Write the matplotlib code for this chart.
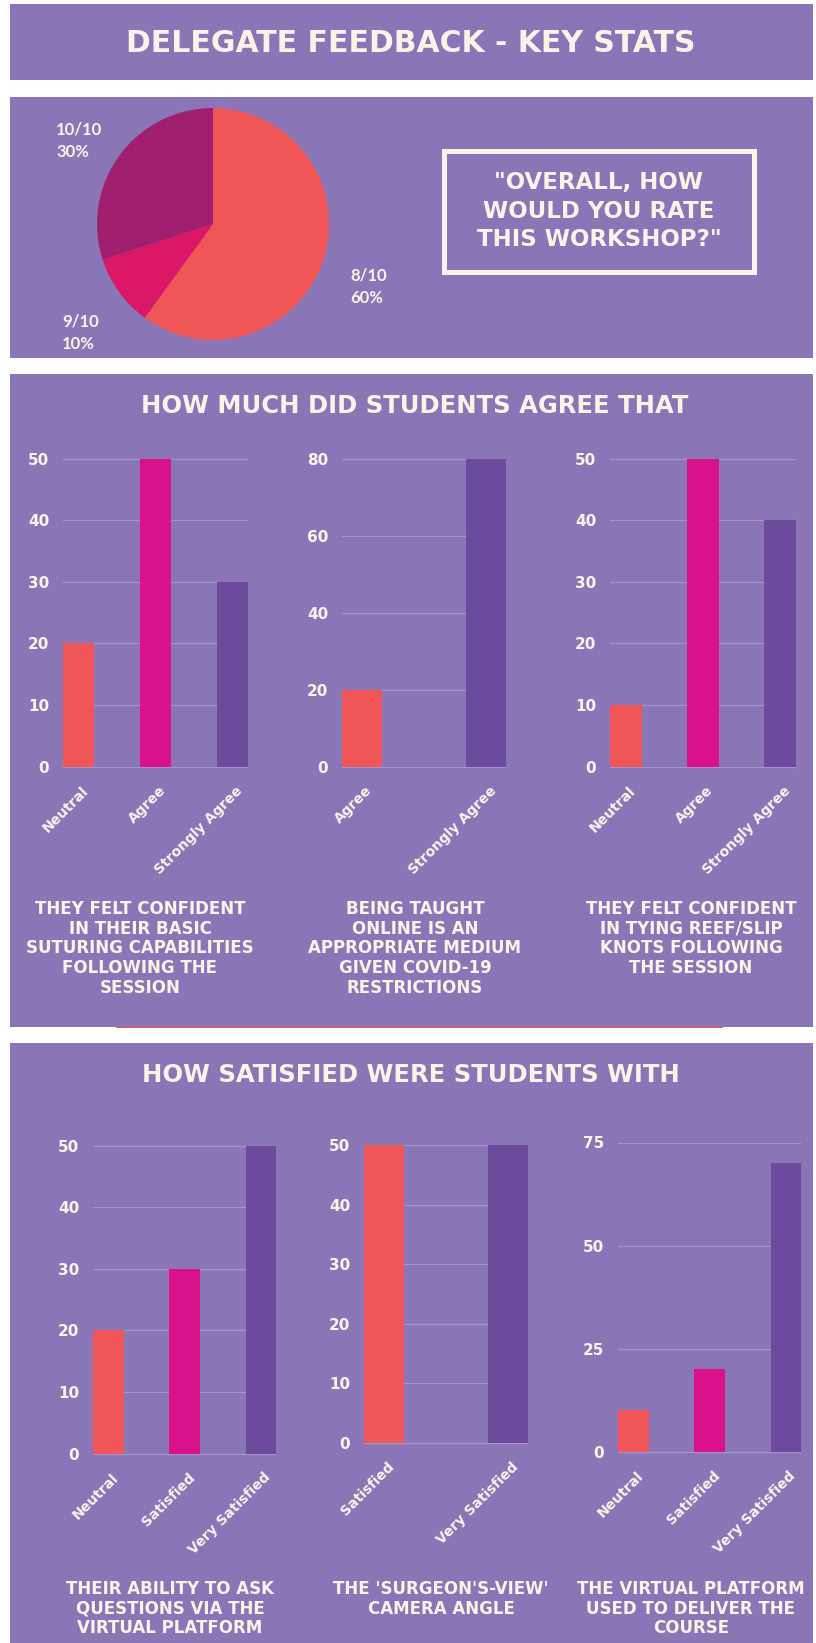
import matplotlib
matplotlib.use("Agg")
import matplotlib.pyplot as plt
from matplotlib.patches import Rectangle
from matplotlib.transforms import ScaledTranslation

W, H = 816, 1643
BG = '#8A76B6'
SALMON = '#F05558'
MAGENTA = '#DA128A'
PURPLE = '#6C4A9E'
PIE_MAG = '#DC1766'
PIE_DARK = '#A11F6F'
TXT = '#FCF2E8'
GRID = '#A394CC'
HEAD = 'DejaVu Sans'
BODY = 'Lato'

# overall rating pie
rating_labels = ['8/10', '9/10', '10/10']
rating_pct = [60, 10, 30]

# "how much did students agree that"
agree_cats_a = ['Neutral', 'Agree', 'Strongly Agree']
agree_vals_a = [20, 50, 30]
agree_cats_b = ['Agree', 'Strongly Agree']
agree_vals_b = [20, 80]
agree_cats_c = ['Neutral', 'Agree', 'Strongly Agree']
agree_vals_c = [10, 50, 40]

# "how satisfied were students with"
sat_cats_a = ['Neutral', 'Satisfied', 'Very Satisfied']
sat_vals_a = [20, 30, 50]
sat_cats_b = ['Satisfied', 'Very Satisfied']
sat_vals_b = [50, 50]
sat_cats_c = ['Neutral', 'Satisfied', 'Very Satisfied']
sat_vals_c = [10, 20, 70]

agree_captions = ["THEY FELT CONFIDENT\nIN THEIR BASIC\nSUTURING CAPABILITIES\nFOLLOWING THE\nSESSION",
                  "BEING TAUGHT\nONLINE IS AN\nAPPROPRIATE MEDIUM\nGIVEN COVID-19\nRESTRICTIONS",
                  "THEY FELT CONFIDENT\nIN TYING REEF/SLIP\nKNOTS FOLLOWING\nTHE SESSION"]
sat_captions = ["THEIR ABILITY TO ASK\nQUESTIONS VIA THE\nVIRTUAL PLATFORM",
                "THE 'SURGEON'S-VIEW'\nCAMERA ANGLE",
                "THE VIRTUAL PLATFORM\nUSED TO DELIVER THE\nCOURSE"]

fig = plt.figure(figsize=(W / 100, H / 100), dpi=100, facecolor='white')


def fx(x):
    return x / W


def fy(y):
    return 1 - y / H


def panel(x0, y0, x1, y1):
    fig.patches.append(Rectangle((fx(x0), fy(y1)), (x1 - x0) / W, (y1 - y0) / H,
                                 transform=fig.transFigure, facecolor=BG,
                                 edgecolor='none', zorder=-5))


def label(x, y, s, size, family=HEAD, weight='bold', ha='center', ls=1.2):
    fig.text(fx(x), fy(y), s, color=TXT, fontsize=size, family=family,
             fontweight=weight, ha=ha, va='center', linespacing=ls)


# panels
panel(10, 4, 813, 80)
panel(10, 97, 813, 358)
panel(10, 374, 813, 1027)
panel(10, 1043, 813, 1643)
fig.lines.append(plt.Line2D([fx(116), fx(722)], [fy(1026.5)] * 2, color=SALMON,
                            lw=0.8, transform=fig.transFigure, zorder=-4))

label(411, 43, 'DELEGATE FEEDBACK - KEY STATS', 21.5)

# pie
pax = fig.add_axes([fx(97), fy(340), 232 / W, 232 / H])
pax.pie(rating_pct, colors=[SALMON, PIE_MAG, PIE_DARK], startangle=90,
        counterclock=False, wedgeprops=dict(linewidth=0))
pax.set_xlim(-1, 1)
pax.set_ylim(-1, 1)
pax.set_aspect('equal')

pie_pos = {'8/10': (350, 287), '9/10': (62, 333), '10/10': (56, 141)}
for lab, pct in zip(rating_labels, rating_pct):
    x, y = pie_pos[lab]
    label(x, y, f"{lab}\n{pct}%", 12, family=BODY, ha='left', ls=1.5)

fig.patches.append(Rectangle((fx(444.5), fy(271.5)), 309.5 / W, 120 / H,
                             transform=fig.transFigure, facecolor='none',
                             edgecolor=TXT, linewidth=3.6, zorder=2))
label(599, 211, '"OVERALL, HOW\nWOULD YOU RATE\nTHIS WORKSHOP?"', 16.5, ls=1.3)

label(415, 406, 'HOW MUCH DID STUDENTS AGREE THAT', 17.5)
label(411, 1075, 'HOW SATISFIED WERE STUDENTS WITH', 17.5)


def bars(cats, vals, x0, x1, ytop, yzero, ymax, step, width, colors):
    ppu = (yzero - ytop) / ymax
    m = 0.012 * ymax
    top = ytop - m * ppu
    bot = yzero + m * ppu
    ax = fig.add_axes([fx(x0), fy(bot), (x1 - x0) / W, (bot - top) / H])
    ax.set_facecolor('none')
    n = len(cats)
    ax.bar(range(n), vals, width=width, color=colors, zorder=3)
    ax.set_xlim(-width / 2, n - 1 + width / 2)
    ax.set_ylim(-m, ymax + m)
    ticks = list(range(0, ymax + 1, step))
    ax.set_yticks(ticks)
    ax.set_yticklabels([str(t) for t in ticks])
    ax.yaxis.grid(True, color=GRID, lw=0.9, zorder=0)
    ax.set_axisbelow(True)
    for s in ax.spines.values():
        s.set_visible(False)
    ax.tick_params(axis='y', length=0, pad=10, labelsize=11, labelcolor=TXT)
    ax.set_xticks(range(n))
    ax.set_xticklabels(cats, rotation=45, ha='right', va='center',
                       rotation_mode='anchor')
    ax.tick_params(axis='x', length=0, pad=13, labelsize=10, labelcolor=TXT)
    off = ScaledTranslation(8 / 100, 0, fig.dpi_scale_trans)
    for t in ax.get_xticklabels():
        t.set_transform(t.get_transform() + off)
    for t in ax.get_xticklabels() + ax.get_yticklabels():
        t.set_family(HEAD)
        t.set_fontweight('bold')
    return ax


three = [SALMON, MAGENTA, PURPLE]
two = [SALMON, PURPLE]

bars(agree_cats_a, agree_vals_a, 63, 248, 458.6, 766.6, 50, 10, 0.405, three)
bars(agree_cats_b, agree_vals_b, 342, 506, 458.6, 766.6, 80, 20, 0.32, two)
bars(agree_cats_c, agree_vals_c, 610, 796, 458.6, 766.6, 50, 10, 0.41, three)

bars(sat_cats_a, sat_vals_a, 93, 276, 1145.7, 1453.5, 50, 10, 0.40, three)
bars(sat_cats_b, sat_vals_b, 364, 528, 1145, 1443, 50, 10, 0.32, two)
bars(sat_cats_c, sat_vals_c, 618, 801, 1142.5, 1451.6, 75, 25, 0.40, three)

for cx, cap in zip([140, 415, 691], agree_captions):
    fig.text(fx(cx), fy(900), cap, color=TXT, fontsize=12, family=HEAD,
             fontweight='bold', ha='center', va='top', linespacing=1.12)
for cx, cap in zip([170, 441, 691], sat_captions):
    fig.text(fx(cx), fy(1580), cap, color=TXT, fontsize=12, family=HEAD,
             fontweight='bold', ha='center', va='top', linespacing=1.12)

fig.savefig('out.png', dpi=100, facecolor='white')
